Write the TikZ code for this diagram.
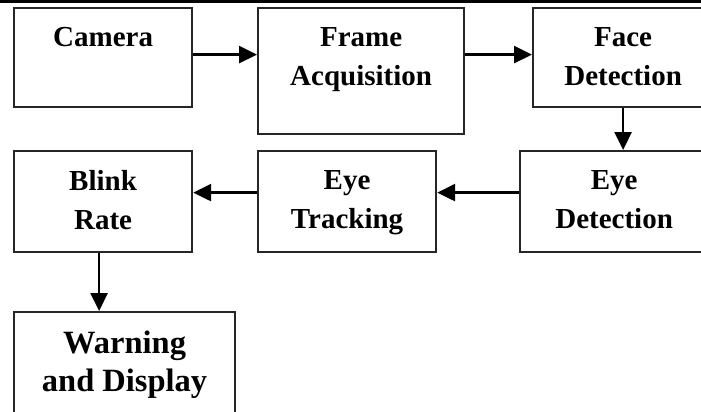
\documentclass[tikz,border=0pt]{standalone}
\usepackage{fontspec}
\setmainfont{Liberation Serif}
\usepackage{tikz}
\usetikzlibrary{arrows.meta}

\begin{document}
\begin{tikzpicture}[x=1pt, y=-1pt,
        block/.style={draw=black!85, line width=2.2pt, anchor=north west, inner sep=0pt},
        caption/.style={font=\fontsize{29}{39}\selectfont\bfseries, align=center, anchor=north, inner sep=0pt, yshift=-20pt},
        flow/.style={-{Triangle[length=18pt, width=17pt]}, line width=2.6pt}]
        \clip (0,0) rectangle (701,412);

        % Top rule
        \fill (0,0) rectangle (701,3);

        % Nodes
        \node[block, minimum width=178pt, minimum height=99pt, label={[caption, name=camtxt]north:Camera}] (camera) at (13,7) {};
        \node[block, minimum width=206pt, minimum height=126pt, label={[caption, name=frametxt]north:Frame\\Acquisition}] (frame) at (257,7) {};
        \node[block, minimum width=180pt, minimum height=99pt, label={[caption, name=facetxt]north:Face\\Detection}] (face) at (532,7) {};
        \node[block, minimum width=188pt, minimum height=101pt, label={[caption, name=eyedettxt]north:Eye\\Detection}] (eyedet) at (519,150) {};
        \node[block, minimum width=178pt, minimum height=101pt, label={[caption, name=tracktxt]north:Eye\\Tracking}] (track) at (257,150) {};
        \node[block, minimum width=178pt, minimum height=101pt, label={[caption, name=blinktxt]north:Blink\\Rate}] (blink) at (13,150) {};
        \node[block, minimum width=221pt, minimum height=110pt, label={[caption, name=warntxt, font=\fontsize{32.5}{38}\selectfont\bfseries]north:Warning\\and Display}] (warning) at (13,311) {};

        % Edges
        \draw[flow] ([yshift=3pt]camera.east) -- ([yshift=3pt]camera.east -| frame.west);
        \draw[flow] ([yshift=3pt]face.west -| frame.east) -- ([yshift=3pt]face.west);
        \draw[flow] (face.south) -- (face.south |- eyedet.north);
        \draw[flow] ([yshift=9pt]eyedet.west) -- ([yshift=9pt]track.east);
        \draw[flow] ([yshift=9pt]track.west) -- ([yshift=9pt]blink.east);
        \draw[flow] ([xshift=-4pt]blink.south) -- ([xshift=-4pt]blink.south |- warning.north);

    \end{tikzpicture}
\end{document}
